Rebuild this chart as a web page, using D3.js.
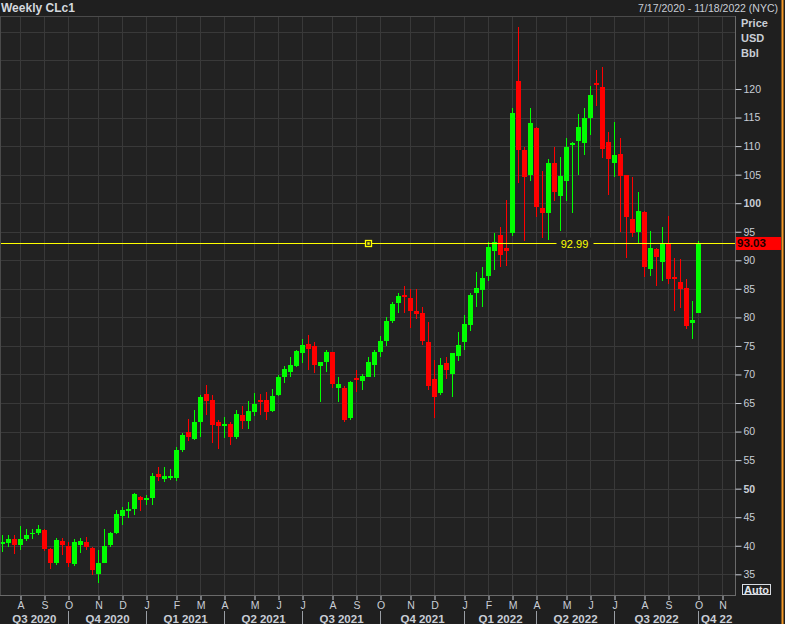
<!DOCTYPE html>
<html><head><meta charset="utf-8">
<script src="https://cdn.jsdelivr.net/npm/d3@7"></script>
<style>
html,body{margin:0;padding:0;background:#1f1f1f;}
svg{display:block;}
text{font-family:"Liberation Sans",Arial,sans-serif;}
</style></head><body>
<svg id="c" width="785" height="624"></svg>
<script>
// ---------- data ----------
const title = "Weekly CLc1";
const rangeText = "7/17/2020 - 11/18/2022 (NYC)";
const unitLabels = ["Price", "USD", "Bbl"];
const startWeek = "2020-07-17";
const endWeek = "2022-11-18";

const open = [40.3,40.5,41.2,40.1,41.2,42.1,42.3,42.8,39.4,37.0,40.8,40.0,36.8,40.1,40.6,39.6,35.0,37.0,40.1,42.2,45.2,46.0,46.5,48.6,48.0,
48.3,52.6,51.7,51.9,51.8,56.8,60.0,58.7,61.7,66.6,65.5,61.6,60.9,61.4,59.1,62.9,61.9,63.5,65.5,65.5,63.6,66.4,69.5,70.5,71.4,
73.8,75.3,74.9,71.4,72.1,73.9,67.7,67.7,62.4,69.3,68.9,69.6,71.7,74.0,75.8,79.4,82.6,83.9,83.45,81.2,80.7,75.65,69.2,66.7,72.0,
70.0,73.3,75.6,78.7,84.2,84.8,87.3,91.7,94.5,92.2,94.8,121.4,109.4,104.9,113.1,99.1,98.35,107.0,101.3,103.9,110.3,110.9,110.6,115.0,121.0,
120.4,110.8,107.1,108.7,104.9,97.2,95.0,98.4,88.4,91.9,89.65,93.0,87.0,86.25,85.1,79.0,80.8];
const high = [41.9,41.9,41.8,43.4,42.9,43.0,43.6,43.0,39.6,41.4,41.3,40.6,41.1,41.3,41.5,39.8,39.2,42.9,42.4,46.3,46.7,47.6,49.3,48.7,48.9,
52.8,53.8,53.8,53.4,57.3,59.8,62.2,63.8,66.4,68.2,66.4,62.0,62.6,61.6,63.8,64.4,65.4,66.7,66.6,66.9,67.4,69.9,71.5,73.1,74.2,
76.3,76.9,75.7,72.2,74.3,74.0,69.6,68.0,68.9,70.7,70.1,73.0,74.3,76.7,80.0,82.7,84.2,85.5,85.0,85.0,81.9,79.2,72.5,72.8,73.0,
73.8,77.4,80.5,84.2,87.9,88.8,93.2,94.8,95.8,100.6,116.7,130.8,109.9,116.7,113.4,105.7,107.7,109.9,108.1,111.5,110.8,115.6,116.6,120.5,123.3,
123.9,112.5,114.3,111.5,105.0,104.5,101.9,98.6,95.1,92.2,95.9,97.8,90.45,90.2,86.7,82.9,93.4];
const low = [38.9,39.7,38.5,39.3,40.8,41.1,41.9,39.0,35.9,36.6,38.4,36.3,36.5,38.8,39.3,34.8,33.4,36.9,39.8,42.0,43.7,44.9,45.4,46.0,47.2,
47.1,51.4,51.2,51.6,51.4,56.5,58.4,58.6,59.1,62.9,58.0,57.0,58.8,57.6,58.7,60.5,60.5,62.8,62.9,62.1,63.5,66.3,68.5,69.6,71.3,
72.0,70.7,70.3,65.1,70.5,67.6,65.1,61.7,62.0,67.0,67.3,69.5,69.6,73.0,74.9,79.1,80.7,80.7,78.2,79.7,75.2,67.3,62.4,66.4,69.2,
66.0,72.4,74.2,77.7,81.9,81.9,86.3,88.3,88.9,89.0,94.2,103.5,93.3,103.9,97.6,93.9,93.5,100.3,95.2,100.3,98.2,104.9,108.4,112.0,117.1,
108.0,101.5,104.5,95.0,90.45,94.1,93.1,87.0,87.2,85.55,86.4,85.85,81.2,81.6,77.9,76.2,80.7];
const close = [40.6,41.2,40.1,41.2,41.9,42.3,43.0,39.4,37.0,41.0,40.1,36.9,40.6,40.8,39.8,35.7,36.9,40.0,42.2,45.5,46.3,46.4,49.1,48.1,48.4,
52.2,52.0,52.2,52.2,56.8,59.4,59.1,61.6,66.1,65.4,61.2,60.9,61.3,59.1,63.1,61.9,63.6,64.9,65.2,63.5,66.2,69.6,71.0,71.7,74.1,
75.2,74.5,71.7,72.1,73.9,68.3,68.3,62.1,68.7,69.1,69.8,72.1,74.0,75.9,79.4,82.3,83.75,83.5,81.2,80.6,75.9,68.05,66.1,71.7,70.7,
73.7,75.2,78.85,83.9,85.1,86.85,92.3,93.2,90.9,91.6,115.85,109.4,104.6,114.1,99.3,98.2,107.0,102.0,104.7,109.9,110.5,113.3,115.0,118.95,120.7,
109.5,107.7,108.4,104.8,97.5,94.7,98.65,88.9,92.1,90.6,93.0,86.7,86.75,85.0,78.5,79.5,93.03];

const yTicks = [35,40,45,50,55,60,65,70,75,80,85,90,95,100,105,110,115,120];
const boldTicks = [50,100];
const gridValues = [35,40,45,50,55,60,65,70,75,80,85,90,95,100,105,110,115,120,125,130];
const monthLabels = ["A","S","O","N","D","J","F","M","A","M","J","J","A","S","O","N","D","J","F","M","A","M","J","J","A","S","O","N"];
const quarterLabels = ["Q3 2020","Q4 2020","Q1 2021","Q2 2021","Q3 2021","Q4 2021","Q1 2022","Q2 2022","Q3 2022","Q4 22"];
const lastPrice = 93.03;
const lineLabel = "92.99";
const markerWeek = "2021-09-17";
const labelWeek = "2022-05-13";

// ---------- layout ----------
const W = 785, H = 624;
const P = {l: 0, t: 17, r: 735, b: 595};
const C = {bg: "#1f1f1f", plot: "#222222", grid: "#393939", text: "#c9ced6", up: "#00ff00", down: "#ff0000", line: "#ffff00"};

const svg = d3.select("#c");
const parse = d3.utcParse("%Y-%m-%d");
const weeks = d3.utcFriday.range(parse(startWeek), d3.utcDay.offset(parse(endWeek), 1));
const x = d3.scaleUtc().domain([parse(startWeek), parse(endWeek)]).range([2.5, 734.5]);
const y = d3.scaleLinear().domain([35, 120]).range([574.3, 89]);

const candles = open.map((o, i) => ({d: weeks[i], o, h: high[i], l: low[i], c: close[i]}));
const monthTicks = weeks.filter((d, i) => i > 0 && d.getUTCMonth() !== weeks[i - 1].getUTCMonth());
const qBounds = monthTicks.filter(d => d.getUTCMonth() % 3 === 0);

svg.append("rect").attr("width", W).attr("height", H).attr("fill", C.bg);
svg.append("rect").attr("x", P.l).attr("y", P.t).attr("width", P.r - P.l).attr("height", P.b - P.t).attr("fill", C.plot);

svg.append("defs").append("clipPath").attr("id", "clip")
  .append("rect").attr("x", P.l).attr("y", P.t).attr("width", P.r - P.l).attr("height", P.b - P.t);

const g = svg.append("g").attr("clip-path", "url(#clip)");

// grid
g.selectAll(".hg").data(gridValues).join("line")
  .attr("x1", P.l).attr("x2", P.r)
  .attr("y1", d => Math.round(y(d)) + 0.5).attr("y2", d => Math.round(y(d)) + 0.5)
  .attr("stroke", C.grid).attr("stroke-width", 1);
g.selectAll(".vg").data(monthTicks).join("line")
  .attr("x1", d => Math.floor(x(d)) + 0.5).attr("x2", d => Math.floor(x(d)) + 0.5)
  .attr("y1", P.t).attr("y2", P.b)
  .attr("stroke", C.grid).attr("stroke-width", 1);

// candles
const cg = g.append("g").attr("shape-rendering", "crispEdges");
cg.selectAll(".wick").data(candles).join("line")
  .attr("x1", d => x(d.d)).attr("x2", d => x(d.d))
  .attr("y1", d => y(d.h)).attr("y2", d => y(d.l))
  .attr("stroke", d => d.c >= d.o ? C.up : C.down).attr("stroke-width", 1);
cg.selectAll(".body").data(candles).join("rect")
  .attr("x", d => x(d.d) - 2.5).attr("width", 5)
  .attr("y", d => y(Math.max(d.o, d.c)))
  .attr("height", d => Math.max(1.5, Math.abs(y(d.o) - y(d.c))))
  .attr("fill", d => d.c >= d.o ? C.up : C.down);

// horizontal yellow line
const ly = Math.round(y(lastPrice)) + 0.5;
g.append("line").attr("x1", P.l).attr("x2", P.r).attr("y1", ly).attr("y2", ly)
  .attr("stroke", C.line).attr("stroke-width", 1);
const lx = x(parse(labelWeek)) + 2;
g.append("rect").attr("x", lx - 18).attr("y", ly - 6).attr("width", 37).attr("height", 12).attr("fill", C.plot);
g.append("text").attr("x", lx).attr("y", ly + 4).attr("text-anchor", "middle")
  .attr("fill", C.line).attr("font-size", 11).text(lineLabel);
const mx = x(parse(markerWeek));
g.append("rect").attr("x", mx - 3).attr("y", ly - 3).attr("width", 6).attr("height", 6)
  .attr("fill", C.plot).attr("stroke", C.line).attr("stroke-width", 1.3);
g.append("rect").attr("x", mx - 1.2).attr("y", ly - 1.2).attr("width", 2.4).attr("height", 2.4).attr("fill", C.line);

// frame lines
svg.append("line").attr("x1", 0).attr("x2", P.r).attr("y1", P.t - 0.5).attr("y2", P.t - 0.5).attr("stroke", "#4a4a4a");
svg.append("line").attr("x1", 0.5).attr("x2", 0.5).attr("y1", P.t).attr("y2", P.b).attr("stroke", "#4a4a4a");
svg.append("line").attr("x1", P.r + 0.5).attr("x2", P.r + 0.5).attr("y1", P.t - 1).attr("y2", P.b + 1).attr("stroke", "#6a6a6a");
svg.append("line").attr("x1", 0).attr("x2", P.r + 1).attr("y1", P.b + 0.5).attr("y2", P.b + 0.5).attr("stroke", "#6a6a6a");

// right axis
const ya = svg.append("g").attr("transform", `translate(${P.r + 0.5},0)`)
  .call(d3.axisRight(y).tickValues(yTicks).tickSize(6).tickPadding(2).tickFormat(d3.format("d")));
ya.select(".domain").remove();
ya.selectAll(".tick line").attr("stroke", C.text);
ya.selectAll(".tick text").attr("fill", C.text).attr("font-size", 10.5)
  .attr("font-family", "Liberation Sans, Arial, sans-serif")
  .attr("font-weight", d => boldTicks.includes(d) ? "bold" : "normal");

// bottom axis
const xa = svg.append("g").attr("transform", `translate(0,${P.b + 1})`)
  .call(d3.axisBottom(x).tickValues(monthTicks).tickSize(4).tickPadding(2)
    .tickFormat((d, i) => monthLabels[i]));
xa.select(".domain").remove();
xa.selectAll(".tick line").attr("stroke", C.text);
xa.selectAll(".tick text").attr("fill", C.text).attr("font-size", 10.5)
  .attr("font-family", "Liberation Sans, Arial, sans-serif");

// quarter labels
const qx = [P.l, ...qBounds.map(d => x(d)), P.r];
svg.selectAll(".qsep").data(qBounds).join("line")
  .attr("x1", d => Math.floor(x(d)) + 0.5).attr("x2", d => Math.floor(x(d)) + 0.5)
  .attr("y1", 611).attr("y2", H).attr("stroke", "#9a9ea4");
svg.selectAll(".qlab").data(quarterLabels).join("text")
  .attr("x", (d, i) => (qx[i] + qx[i + 1]) / 2).attr("y", 623)
  .attr("text-anchor", "middle").attr("fill", C.text)
  .attr("font-size", 11.5).attr("font-weight", "bold").text(d => d);

// last price tag
const tagY = y(lastPrice);
svg.append("rect").attr("x", P.r + 1).attr("y", tagY - 6).attr("width", 45).attr("height", 13).attr("fill", "#ff0000");
svg.append("text").attr("x", P.r + 2).attr("y", tagY + 4.5).attr("fill", "#1a0000")
  .attr("font-size", 11.5).attr("font-weight", "bold").text(d3.format(".2f")(lastPrice));

// header texts
svg.append("text").attr("x", 1).attr("y", 12).attr("fill", "#d4d8de")
  .attr("font-size", 12).attr("font-weight", "bold").text(title);
svg.append("text").attr("x", 778).attr("y", 12).attr("text-anchor", "end").attr("fill", C.text)
  .attr("font-size", 10.5).text(rangeText);
svg.selectAll(".unit").data(unitLabels).join("text")
  .attr("x", 741).attr("y", (d, i) => 27 + i * 15).attr("fill", C.text)
  .attr("font-size", 11).attr("font-weight", "bold").text(d => d);

// Auto box
svg.append("rect").attr("x", 742.5).attr("y", 584.5).attr("width", 28).attr("height", 10)
  .attr("fill", "none").attr("stroke", "#d8dce2");
svg.append("text").attr("x", 756.5).attr("y", 593.5).attr("text-anchor", "middle").attr("fill", "#e0e4ea")
  .attr("font-size", 11).attr("font-weight", "bold").text("Auto");

// orange edge
svg.append("line").attr("x1", 782.5).attr("x2", 782.5).attr("y1", 0).attr("y2", H)
  .attr("stroke", "#f39a2a").attr("stroke-width", 2);
</script>
</body></html>
